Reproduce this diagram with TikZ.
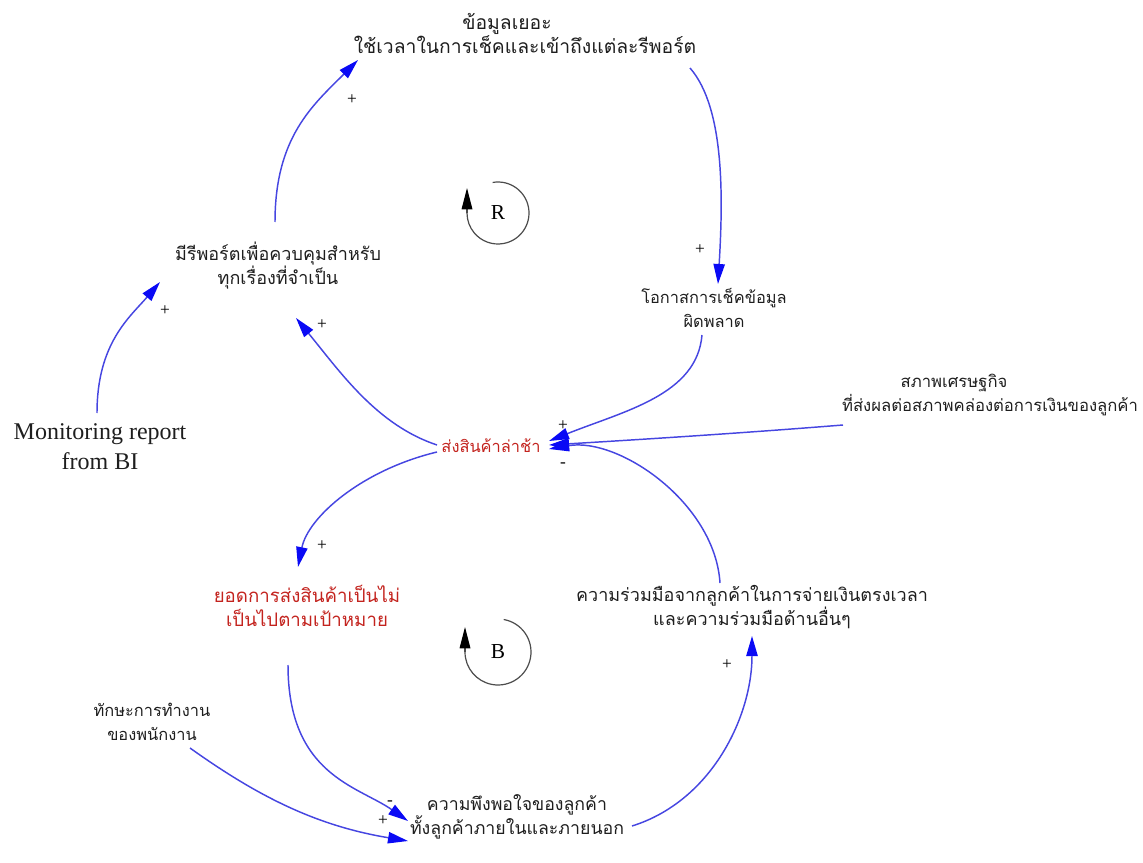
\documentclass[tikz,border=0pt]{standalone}
\usepackage{fontspec}
\usetikzlibrary{arrows.meta,calc}
\newfontfamily\thaifont[Script=Thai]{Loma}
\newfontfamily\bifont{Liberation Serif}
\definecolor{linkblue}{RGB}{70,70,225}
\definecolor{headblue}{RGB}{10,10,245}
\definecolor{varred}{RGB}{195,35,30}
\definecolor{textgray}{RGB}{30,30,30}
\tikzset{
  thai/.style={font=\thaifont\fontsize{#1}{18}\selectfont, text=textgray, align=center, inner sep=1pt},
  thai/.default=13.5,
  hot/.style={thai=#1, text=varred},
  hot/.default=13.5,
  link/.style={draw=linkblue, line width=1.1pt, -{Triangle[length=15pt,width=8.5pt,fill=headblue,color=headblue]}},
  sign/.style={font=\bifont\fontsize{13}{13}\selectfont, text=black, inner sep=0pt},
  loopline/.style={draw=black!70, line width=0.9pt},
  looptip/.style={loopline, -{Triangle[length=16pt,width=8pt,fill=black,color=black]}},
}
\begin{document}
\begin{tikzpicture}[x=0.75pt,y=-0.75pt]
\useasboundingbox (0,0) rectangle (1143,863);

% variables
\node[thai=14.5] (top) at (525,33) {ข้อมูลเยอะ\hspace*{27pt}\\ใช้เวลาในการเช็คและเข้าถึงแต่ละรีพอร์ต};
\node[thai] (rep) at (278,266) {มีรีพอร์ตเพื่อควบคุมสำหรับ\\ทุกเรื่องที่จำเป็น};
\node[thai=12.3] (err) at (714,308) {โอกาสการเช็คข้อมูล\\ผิดพลาด};
\node[thai=12.5] (eco) at (990,395) {สภาพเศรษฐกิจ\hspace*{54pt}\\ที่ส่งผลต่อสภาพคล่องต่อการเงินของลูกค้า};
\node[hot=12.3]  (late) at (491,446) {ส่งสินค้าล่าช้า};
\node[hot=14]  (sales) at (307,606) {ยอดการส่งสินค้าเป็นไม่\\เป็นไปตามเป้าหมาย};
\node[thai] (coop) at (752,607) {ความร่วมมือจากลูกค้าในการจ่ายเงินตรงเวลา\\และความร่วมมือด้านอื่นๆ};
\node[thai=12.3] (skill) at (152,722) {ทักษะการทำงาน\\ของพนักงาน};
\node[thai=13.3] (sat) at (517,817) {ความพึงพอใจของลูกค้า\\ทั้งลูกค้าภายในและภายนอก};
\node[font=\bifont\fontsize{18}{22.5}\selectfont, text=textgray, align=center, inner sep=1pt] (bi) at (100,447) {Monitoring report\\from BI};

% end points of the links
\coordinate (repOut) at (275,222);
\coordinate (topIn) at (358,60);
\coordinate (topOut) at (690,68);
\coordinate (errIn) at (718,284);
\coordinate (errOut) at (702,335);
\coordinate (lateInA) at (549,441);
\coordinate (ecoOut) at (843,425);
\coordinate (lateInB) at (549,445);
\coordinate (coopOut) at (720,583);
\coordinate (lateInC) at (549,449);
\coordinate (lateOutA) at (437,445);
\coordinate (repIn) at (296,318);
\coordinate (lateOutB) at (437,452);
\coordinate (salesIn) at (298,567);
\coordinate (salesOut) at (288,665);
\coordinate (satInA) at (408,821);
\coordinate (skillOut) at (190,748);
\coordinate (satInB) at (408,841);
\coordinate (satOut) at (632,826);
\coordinate (coopIn) at (752,636);
\coordinate (biOut) at (97,413);
\coordinate (repInB) at (160,282);

% causal links
\draw[link] (repOut) .. controls +(0,-85) and +(-45,45) .. (topIn);
\draw[link] (topOut) .. controls +(35,40) and +(5,-85) .. (errIn);
\draw[link] (errOut) .. controls +(-5,60) and +(75,-30) .. (lateInA);
\draw[link] (ecoOut) .. controls +(-100,8) and +(100,-6) .. (lateInB);
\draw[link] (coopOut) .. controls +(-5,-80) and +(70,-12) .. (lateInC);
\draw[link] (lateOutA) .. controls +(-60,-20) and +(45,55) .. (repIn);
\draw[link] (lateOutB) .. controls +(-75,18) and +(10,-50) .. (salesIn);
\draw[link] (salesOut) .. controls +(0,110) and +(-50,-35) .. (satInA);
\draw[link] (skillOut) .. controls +(70,50) and +(-90,-15) .. (satInB);
\draw[link] (satOut) .. controls +(80,-25) and +(0,80) .. (coopIn);
\draw[link] (biOut) .. controls +(0,-70) and +(-30,35) .. (repInB);

% link polarities
\node[sign] (s1) at (352,100) {+};
\node[sign] (s2) at (700,250) {+};
\node[sign] (s3) at (165,311) {+};
\node[sign] (s4) at (322,325) {+};
\node[sign] (s5) at (563,426) {+};
\node[sign] (s6) at (563,465) {-};
\node[sign] (s7) at (322,546) {+};
\node[sign] (s8) at (727,665) {+};
\node[sign] (s9) at (390,803) {-};
\node[sign] (s10) at (383,821) {+};

% loop markers
\node[font=\bifont\fontsize{16}{16}\selectfont] (R) at (498,213) {R};
\draw[loopline] (R) ++(-100:31) arc[start angle=-100, end angle=180, radius=31]
  coordinate (rEnd);
\draw[looptip] (rEnd) -- ++(0,-25);
\node[font=\bifont\fontsize{16}{16}\selectfont] (B) at (498,652) {B};
\draw[loopline] (B) ++(-80:33) arc[start angle=-80, end angle=180, radius=33]
  coordinate (bEnd);
\draw[looptip] (bEnd) -- ++(0,-25);
\end{tikzpicture}
\end{document}
